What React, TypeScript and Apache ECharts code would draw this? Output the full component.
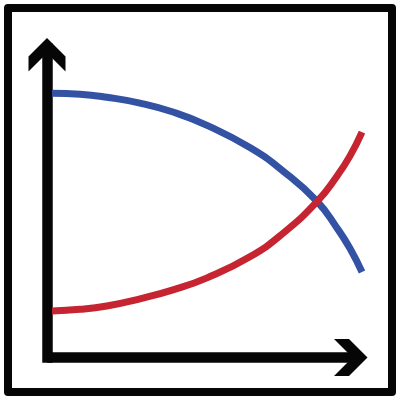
import React, { useEffect, useRef } from 'react';
import * as echarts from 'echarts';
import type { EChartsOption } from 'echarts';

// 曲线数据（x 轴 0-100，y 轴 0-100）
const curveX = [1.6, 10.5, 19.0, 29.5, 40.0, 50.8, 64.4, 74.9, 85.7, 92.1, 96.2, 100];
const blueY = [85.6, 85.3, 84.3, 82.4, 79.5, 75.2, 68.0, 60.4, 50.6, 41.9, 35.3, 27.7];
const redY = [15.1, 15.6, 16.7, 19.0, 21.9, 25.8, 32.6, 40.2, 50.5, 58.8, 65.3, 73.0];

const BLACK = '#060606';
const BLUE = '#3452A4';
const RED = '#C62430';
const AXIS_W = 10.5;

// 箭头（V 形）
const yTip = [47, 38];
const xTip = [367.5, 357.5];
const ARM = 18.5;
const THICK = 15;

const App: React.FC = () => {
  const chartRef = useRef<HTMLDivElement>(null);

  useEffect(() => {
    if (!chartRef.current) return;
    const chart = echarts.init(chartRef.current, null, { renderer: 'svg' });

    const [tx, ty] = yTip;
    const [rx, ry] = xTip;

    const option: EChartsOption = {
      animation: false,
      backgroundColor: '#fff',
      grid: { left: 47, right: 38, top: 48.75, bottom: 42.5 },
      xAxis: {
        type: 'value',
        min: 0,
        max: 100,
        axisLine: { show: true, lineStyle: { color: BLACK, width: AXIS_W, cap: 'butt' } },
        axisTick: { show: false },
        axisLabel: { show: false },
        splitLine: { show: false },
      },
      yAxis: {
        type: 'value',
        min: 0,
        max: 100,
        axisLine: { show: true, lineStyle: { color: BLACK, width: AXIS_W, cap: 'square' } },
        axisTick: { show: false },
        axisLabel: { show: false },
        splitLine: { show: false },
      },
      series: [
        {
          type: 'line',
          data: curveX.map((x, i) => [x, blueY[i]]),
          smooth: 0.5,
          symbol: 'none',
          silent: true,
          lineStyle: { color: BLUE, width: 7, cap: 'butt' },
        },
        {
          type: 'line',
          data: curveX.map((x, i) => [x, redY[i]]),
          smooth: 0.5,
          symbol: 'none',
          silent: true,
          lineStyle: { color: RED, width: 7, cap: 'butt' },
        },
      ],
      graphic: [
        {
          type: 'rect',
          shape: { x: 8, y: 8, width: 384, height: 384 },
          style: { fill: 'none', stroke: BLACK, lineWidth: 8, lineJoin: 'round' },
          z: 10,
        },
        {
          type: 'polygon',
          shape: {
            points: [
              [tx, ty],
              [tx + ARM, ty + ARM],
              [tx + ARM, ty + ARM + THICK],
              [tx, ty + THICK],
              [tx - ARM, ty + ARM + THICK],
              [tx - ARM, ty + ARM],
            ],
          },
          style: { fill: BLACK },
          z: 10,
        },
        {
          type: 'polygon',
          shape: {
            points: [
              [rx, ry],
              [rx - ARM, ry - ARM],
              [rx - ARM - THICK, ry - ARM],
              [rx - THICK, ry],
              [rx - ARM - THICK, ry + ARM],
              [rx - ARM, ry + ARM],
            ],
          },
          style: { fill: BLACK },
          z: 10,
        },
      ],
    };

    chart.setOption(option);

    return () => {
      chart.dispose();
    };
  }, []);

  return (
    <div
      ref={chartRef}
      style={{ position: 'absolute', left: 0, top: 0, width: '400px', height: '400px' }}
    />
  );
};

export default App;
